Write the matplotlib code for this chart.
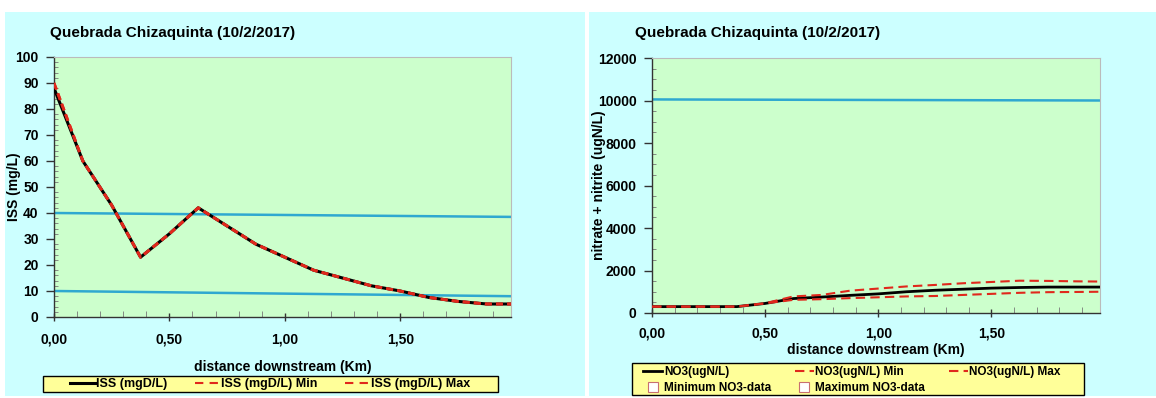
import matplotlib
matplotlib.use("Agg")
import matplotlib.pyplot as plt
from matplotlib.patches import Rectangle
from matplotlib.lines import Line2D
from matplotlib.ticker import MultipleLocator, FuncFormatter

# ---------------- data ----------------
title = "Quebrada Chizaquinta (10/2/2017)"
dist = [0.0, 0.125, 0.25, 0.375, 0.5, 0.625, 0.75, 0.875, 1.0, 1.125, 1.25, 1.375, 1.5, 1.625, 1.75, 1.875, 1.98]
iss = [88, 60, 43, 23, 32, 42, 35, 28, 23, 18, 15, 12, 10, 7.5, 6, 5, 5]
iss_min = [90, 60, 43, 23, 32, 42, 35, 28, 23, 18, 15, 12, 10, 7.5, 6, 5, 5]
iss_max = [90, 60, 43, 23, 32, 42, 35, 28, 23, 18, 15, 12, 10, 7.5, 6, 5, 5]
iss_std_x = [0.0, 1.98]
iss_std_hi = [40, 38.5]
iss_std_lo = [10, 8]

no3 = [300, 300, 300, 300, 450, 680, 750, 830, 900, 1000, 1070, 1120, 1170, 1200, 1220, 1220, 1220]
no3_min = [300, 300, 300, 300, 450, 620, 650, 700, 740, 780, 800, 850, 900, 950, 980, 990, 1000]
no3_max = [300, 300, 300, 300, 460, 780, 850, 1050, 1150, 1250, 1320, 1400, 1460, 1520, 1510, 1490, 1480]
no3_std_x = [0.0, 1.98]
no3_std = [10050, 10000]

# --------------- style ----------------
plt.rcParams["font.family"] = ["Liberation Sans", "DejaVu Sans"]
plt.rcParams["font.weight"] = "bold"
FS = 10

W, H = 1156, 398
fig = plt.figure(figsize=(W / 100, H / 100), dpi=100)
fig.patch.set_facecolor("white")

CYAN = "#CCFFFF"
GREEN = "#CCFFCC"
YELLOW = "#FFFF99"
BLUE = "#2FA8D0"
RED = "#E0281C"

def fx(px):
    return px / W

def fy(py):
    return 1 - py / H

def frect(x0, y0, x1, y1, **kw):
    r = Rectangle((fx(x0), fy(y1)), (x1 - x0) / W, (y1 - y0) / H, transform=fig.transFigure, **kw)
    fig.patches.append(r)
    return r

# panel backgrounds
frect(5, 12, 585, 396, facecolor=CYAN, edgecolor="none", zorder=-10)
frect(589, 12, 1156, 396, facecolor=CYAN, edgecolor="none", zorder=-10)

comma = FuncFormatter(lambda v, p: f"{v:.2f}".replace(".", ","))

def style_axes(ax, xpad):
    ax.set_facecolor(GREEN)
    for s in ["top", "right"]:
        ax.spines[s].set_color("#BBBBBB")
        ax.spines[s].set_linewidth(0.8)
    for s in ["left", "bottom"]:
        ax.spines[s].set_color("#333333")
        ax.spines[s].set_linewidth(1.0)
    ax.set_xlim(0, 1.98)
    ax.xaxis.set_major_locator(MultipleLocator(0.5))
    ax.xaxis.set_minor_locator(MultipleLocator(0.1))
    ax.xaxis.set_major_formatter(comma)
    ax.tick_params(axis="both", which="major", labelsize=FS, width=1, color="#333333")
    ax.tick_params(axis="both", which="minor", length=3, width=0.6, color="#777777")
    ax.tick_params(axis="x", which="major", direction="inout", length=6, pad=xpad)
    ax.tick_params(axis="x", which="minor", direction="in", length=4)
    ax.tick_params(axis="y", which="major", direction="out", length=6, pad=5)
    ax.tick_params(axis="y", which="minor", direction="in", length=3)

DASH1 = (0, (2.5, 1.5))
DASH2 = (0, (4.5, 2.5))

# ---------------- left -----------------
ax1 = fig.add_axes([fx(54), fy(317), fx(511 - 54), (317 - 57) / H])
style_axes(ax1, 8)
ax1.set_ylim(0, 100)
ax1.yaxis.set_major_locator(MultipleLocator(10))
ax1.yaxis.set_minor_locator(MultipleLocator(2))
ax1.plot(iss_std_x, iss_std_hi, color=BLUE, lw=1.8)
ax1.plot(iss_std_x, iss_std_lo, color=BLUE, lw=1.8)
ax1.plot(dist, iss, color="black", lw=2.2, zorder=3)
ax1.plot(dist, iss_min, color=RED, lw=2.0, ls=DASH1, zorder=4)
ax1.plot(dist, iss_max, color=RED, lw=2.0, ls=DASH1, zorder=4)
ax1.set_xlabel("distance downstream (Km)", fontsize=FS, fontweight="bold", labelpad=10)
ax1.set_ylabel("ISS (mg/L)", fontsize=FS, fontweight="bold", labelpad=-4)
for lab in ax1.get_xticklabels() + ax1.get_yticklabels():
    lab.set_fontweight("bold")
fig.text(fx(50), fy(33), title, fontsize=11, fontweight="bold", va="center", ha="left")

frect(43, 376, 498, 392, facecolor=YELLOW, edgecolor="black", lw=1.0, zorder=4)
h1 = [Line2D([], [], color="black", lw=2.2),
      Line2D([], [], color=RED, lw=1.5, ls=(0, (4, 3))),
      Line2D([], [], color=RED, lw=1.5, ls=(0, (4, 3)))]
l1 = ["ISS (mgD/L)", "ISS (mgD/L) Min", "ISS (mgD/L) Max"]
leg1 = fig.legend(h1, l1, loc="center", bbox_to_anchor=(fx(270), fy(384)), ncol=3, frameon=False,
                  handlelength=2.0, handletextpad=0.1, columnspacing=2.2, borderpad=0.0,
                  borderaxespad=0, prop={"weight": "bold", "size": 9})
leg1.set_zorder(6)

# ---------------- right ----------------
ax2 = fig.add_axes([fx(652), fy(313), fx(1100 - 652), (313 - 58) / H])
style_axes(ax2, 7)
ax2.set_ylim(0, 12000)
ax2.yaxis.set_major_locator(MultipleLocator(2000))
ax2.yaxis.set_minor_locator(MultipleLocator(500))
ax2.plot(no3_std_x, no3_std, color=BLUE, lw=1.8)
ax2.plot(dist, no3, color="black", lw=2.0, zorder=3)
ax2.plot(dist, no3_min, color=RED, lw=1.5, ls=DASH2, zorder=4)
ax2.plot(dist, no3_max, color=RED, lw=1.5, ls=DASH2, zorder=4)
ax2.set_xlabel("distance downstream (Km)", fontsize=FS, fontweight="bold", labelpad=1.5)
ax2.set_ylabel("nitrate + nitrite (ugN/L)", fontsize=FS, fontweight="bold", labelpad=-6)
for lab in ax2.get_xticklabels() + ax2.get_yticklabels():
    lab.set_fontweight("bold")
fig.text(fx(635), fy(33), title, fontsize=11, fontweight="bold", va="center", ha="left")

frect(632, 363, 1084, 395, facecolor=YELLOW, edgecolor="black", lw=1.0, zorder=4)
sq = dict(ls="none", marker="s", ms=7, mfc="white", mec="#C87070", mew=0.8)
h2 = [Line2D([], [], color="black", lw=2.0),
      Line2D([], [], **sq),
      Line2D([], [], color=RED, lw=1.5, ls=DASH2),
      Line2D([], [], **sq),
      Line2D([], [], color=RED, lw=1.5, ls=DASH2),
      Line2D([], [], ls="none")]
l2 = ["NO3(ugN/L)", "Minimum NO3-data", "NO3(ugN/L) Min", "Maximum NO3-data", "NO3(ugN/L) Max", ""]
leg2 = fig.legend(h2, l2, loc="center", bbox_to_anchor=(fx(852), fy(380)), ncol=3, frameon=False,
                  handlelength=1.6, handletextpad=0.15, columnspacing=2.0, borderpad=0.0,
                  borderaxespad=0, labelspacing=0.3, prop={"weight": "bold", "size": 8.5})
leg2.set_zorder(6)

fig.savefig("out.png", dpi=100, facecolor="white")
